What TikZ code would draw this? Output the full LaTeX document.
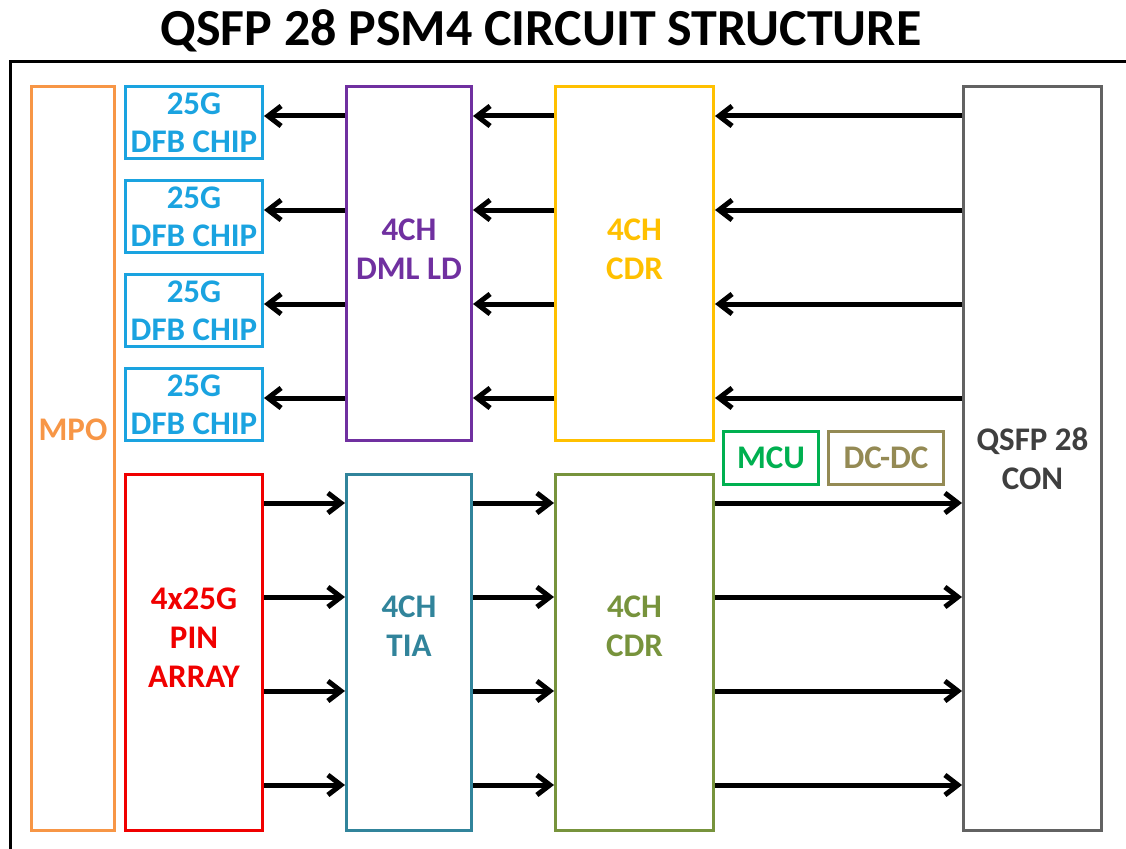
\documentclass[tikz,border=0pt]{standalone}
\usepackage{fontspec}
\setmainfont{Carlito}
\usetikzlibrary{arrows.meta}
\definecolor{cOr}{HTML}{F79646}
\definecolor{cCy}{HTML}{1AA3E0}
\definecolor{cPu}{HTML}{7030A0}
\definecolor{cYe}{HTML}{FFC000}
\definecolor{cGy}{HTML}{626262}
\definecolor{cGt}{HTML}{3F3F3F}
\definecolor{cGn}{HTML}{00B050}
\definecolor{cKh}{HTML}{948A54}
\definecolor{cRd}{HTML}{F00000}
\definecolor{cTe}{HTML}{31849B}
\definecolor{cOl}{HTML}{77933C}
\begin{document}
\begin{tikzpicture}[x=1pt,y=-1pt,
  box/.style={draw=#1, line width=3pt, text=#1, inner sep=0pt, anchor=north west,
    font=\bfseries\fontsize{33}{38}\selectfont, align=center},
  lbl/.style={text=#1, inner sep=0pt, font=\bfseries\fontsize{33}{39}\selectfont, align=center},
  arr/.style={line width=5pt, -{Straight Barb[length=13pt,width=20pt]}}]
\useasboundingbox (0,0) rectangle (1126,848);
% title
\node[font=\bfseries\fontsize{52}{60}\selectfont, inner sep=0pt] (title) at (541,31) {QSFP 28 PSM4 CIRCUIT STRUCTURE};
% outer frame (cut by the image edge)
\coordinate (fTL) at (10,62);
\coordinate (fTR) at (1130,62);
\coordinate (fBL) at (10,852);
\draw[line width=3pt] (fBL) -- (fTL) -- (fTR);
% boxes
\node[box=cOr, minimum width=83pt, minimum height=744pt] (mpo) at (30,85) {};
\node[lbl=cOr] (mpoT) at ([yshift=29pt]mpo.center) {MPO};
\node[box=cCy, minimum width=137pt, minimum height=72pt] (d1) at (124,85) {25G\\DFB CHIP};
\node[box=cCy, minimum width=137pt, minimum height=72pt] (d2) at (124,179) {25G\\DFB CHIP};
\node[box=cCy, minimum width=137pt, minimum height=72pt] (d3) at (124,273) {25G\\DFB CHIP};
\node[box=cCy, minimum width=137pt, minimum height=72pt] (d4) at (124,367) {25G\\DFB CHIP};
\node[box=cPu, minimum width=125pt, minimum height=354pt] (dml) at (345,85) {};
\node[lbl=cPu] (dmlT) at ([yshift=14pt]dml.center) {4CH\\DML LD};
\node[box=cYe, minimum width=158pt, minimum height=354pt] (cdrT) at (554,85) {};
\node[lbl=cYe] (cdrTT) at ([yshift=14pt]cdrT.center) {4CH\\CDR};
\node[box=cGy, minimum width=138pt, minimum height=744pt] (qsfp) at (962,85) {};
\node[lbl=cGt] (qsfpT) at (qsfp.center) {QSFP 28\\CON};
\node[box=cGn, minimum width=95pt, minimum height=53pt] (mcu) at (722,430) {MCU};
\node[box=cKh, minimum width=115pt, minimum height=53pt] (dcdc) at (827,430) {DC-DC};
\node[box=cRd, minimum width=137pt, minimum height=356pt] (pin) at (124,473) {};
\node[lbl=cRd] (pinT) at ([yshift=15pt]pin.center) {4x25G\\PIN\\ARRAY};
\node[box=cTe, minimum width=125pt, minimum height=356pt] (tia) at (345,473) {};
\node[lbl=cTe] (tiaT) at ([yshift=26pt]tia.center) {4CH\\TIA};
\node[box=cOl, minimum width=158pt, minimum height=356pt] (cdrB) at (554,473) {};
\node[lbl=cOl] (cdrBT) at ([yshift=26pt]cdrB.center) {4CH\\CDR};
% row coordinates
\coordinate (r1) at (0,116);
\coordinate (r2) at (0,210);
\coordinate (r3) at (0,304);
\coordinate (r4) at (0,398);
\coordinate (s1) at (0,503);
\coordinate (s2) at (0,597);
\coordinate (s3) at (0,691);
\coordinate (s4) at (0,785);
% transmit arrows (right to left)
\foreach \r in {r1,r2,r3,r4}{
  \draw[arr] (qsfp.west |- \r) -- (cdrT.east |- \r);
  \draw[arr] (cdrT.west |- \r) -- (dml.east |- \r);
  \draw[arr] (dml.west |- \r) -- (d1.east |- \r);
}
% receive arrows (left to right)
\foreach \r in {s1,s2,s3,s4}{
  \draw[arr] (pin.east |- \r) -- (tia.west |- \r);
  \draw[arr] (tia.east |- \r) -- (cdrB.west |- \r);
  \draw[arr] (cdrB.east |- \r) -- (qsfp.west |- \r);
}
\end{tikzpicture}
\end{document}
